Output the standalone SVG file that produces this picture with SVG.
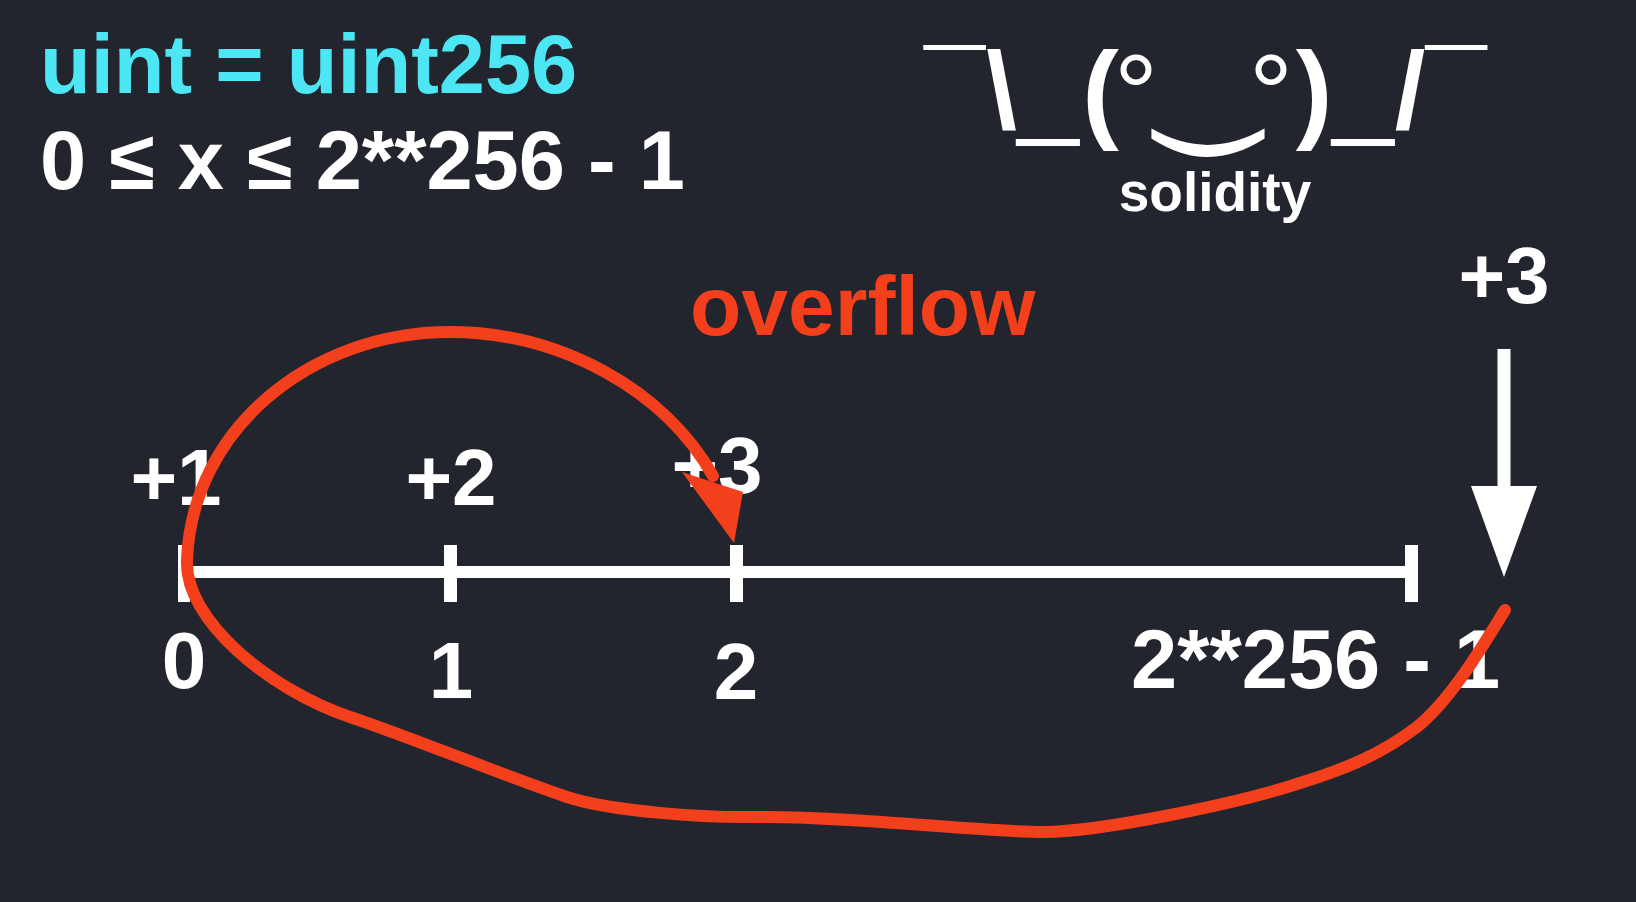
<svg xmlns="http://www.w3.org/2000/svg" width="1636" height="902" viewBox="0 0 1636 902">
<defs>
<style>
.t{font-family:"Liberation Sans",Arial,sans-serif;font-weight:bold;fill:#ffffff}
.c{text-anchor:middle}
.big{font-size:83px}
.lbl{font-size:80px}
.sh{font-family:"Liberation Sans",Arial,"DejaVu Sans",sans-serif;font-size:110px;fill:#ffffff;text-anchor:middle}
.b{font-weight:bold}
.wl{fill:#ffffff}
.red{fill:none;stroke:#f43f1d;stroke-width:12;stroke-linecap:round;stroke-linejoin:round}
</style>
</defs>
<rect x="0" y="0" width="1636" height="902" fill="#22252d"/>

<g id="title">
<text class="t big" x="40" y="93" style="fill:#4de6f5">uint = uint256</text>
</g>
<g id="range">
<text class="t big" x="40" y="189">0 ≤ x ≤ 2**256 - 1</text>
</g>

<g id="shrug">
<text class="sh"><tspan x="954.5" y="128">¯</tspan><tspan class="b" x="1001.5" y="128">\</tspan><tspan x="1048" y="124">_</tspan><tspan class="b" x="1100.5" y="128">(</tspan><tspan x="1136" y="131">°</tspan><tspan x="1208" y="119" style="font-family:'DejaVu Sans',sans-serif;font-size:160px" textLength="102" lengthAdjust="spacingAndGlyphs">‿</tspan><tspan x="1271" y="131">°</tspan><tspan class="b" x="1314" y="128">)</tspan><tspan x="1363" y="124">_</tspan><tspan class="b" x="1410" y="128">/</tspan><tspan x="1456" y="128">¯</tspan></text>
<text class="t c" x="1215" y="211" style="font-size:55px">solidity</text>
</g>

<g id="overflow-label">
<text class="t" x="690" y="335" style="font-size:84px;fill:#f43f1d">overflow</text>
</g>

<g id="number-line">
<rect class="wl" x="180" y="566" width="1231" height="12"/>
<rect class="wl" x="178" y="545" width="12" height="57"/>
<rect class="wl" x="444" y="545" width="13" height="57"/>
<rect class="wl" x="730" y="545" width="13" height="57"/>
<rect class="wl" x="1405" y="545" width="13" height="57"/>
</g>

<g id="step-labels">
<text class="t c lbl" x="176" y="505">+1</text>
<text class="t c lbl" x="451" y="505">+2</text>
<text class="t c lbl" x="717" y="493">+3</text>
<text class="t c lbl" x="1504" y="303">+3</text>
</g>

<g id="value-labels">
<text class="t c lbl" x="184" y="688">0</text>
<text class="t c lbl" x="451" y="698">1</text>
<text class="t c lbl" x="736" y="699">2</text>
<text class="t big" x="1131" y="688">2**256 - 1</text>
</g>

<g id="connectors">
<g id="down-arrow">
<rect class="wl" x="1497.5" y="349" width="13" height="140"/>
<polygon class="wl" points="1471,486 1537,486 1504,577"/>
</g>
<g id="overflow-curve">
<path class="red" d="M713,476 C665,390 560,332 450,332 C310,332 192,430 187,560 C184,620 270,690 350,717 C410,737 510,778 567,797 C610,811 700,818 760,817 C850,816 980,832 1043,832 C1100,832 1240,803 1300,783 C1345,769 1380,755 1417,727 C1452,699 1485,642 1505,610"/>
<polygon points="682,472 743,492 734,543" fill="#f43f1d"/>
</g>
</g>
</svg>
